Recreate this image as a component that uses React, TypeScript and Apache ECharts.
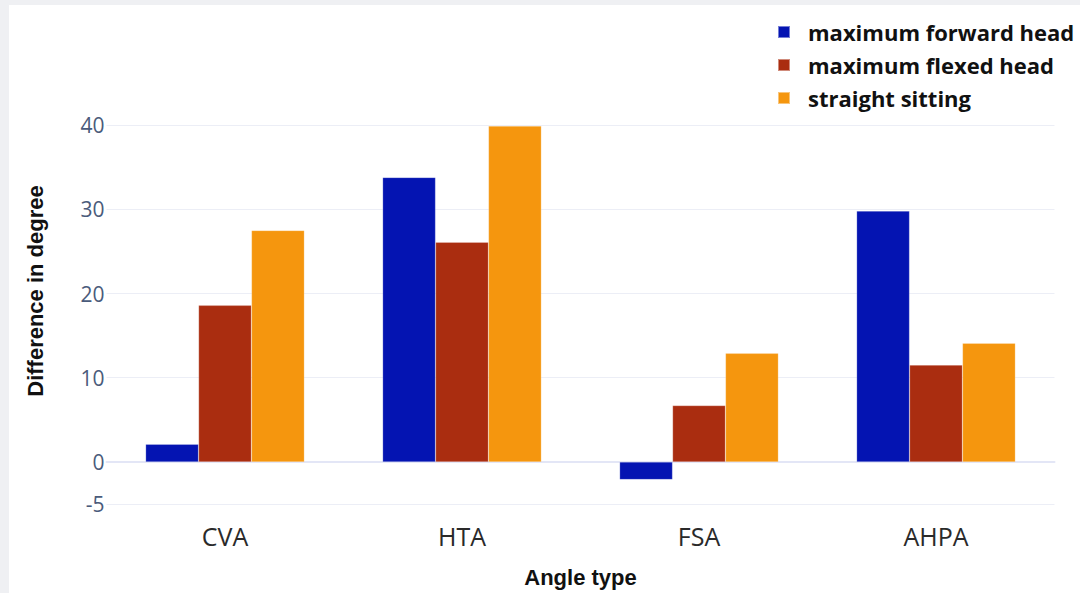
import React, { useEffect, useRef } from "react";
import * as echarts from "echarts";

const categories = ["CVA", "HTA", "FSA", "AHPA"];
const seriesNames = ["maximum forward head", "maximum flexed head", "straight sitting"];
const forwardHead = [2.1, 33.8, -2.1, 29.8];
const flexedHead = [18.6, 26.1, 6.7, 11.5];
const straightSitting = [27.5, 39.9, 12.9, 14.1];
const shownTicks = [-5, 0, 10, 20, 30, 40];
const yTitle = "Difference in degree";
const xTitle = "Angle type";

const colors = ["#0414b2", "#aa2d10", "#f5960e"];

export default function App() {
  const ref = useRef<HTMLDivElement>(null);
  useEffect(() => {
    if (!ref.current) return;
    const chart = echarts.init(ref.current, null, { renderer: "svg" });
    const grid = "#eceef6";
    const splitColors = [grid, "transparent", "transparent", grid, "transparent", grid, "transparent", grid, "transparent", grid, "transparent", "transparent"];
    const values = [forwardHead, flexedHead, straightSitting];
    chart.setOption({
      animation: false,
      backgroundColor: "#ffffff",
      grid: { left: 97.5, right: 25.5, top: 103.4, bottom: 89 },
      legend: {
        orient: "vertical",
        left: 763,
        top: 11,
        icon: "rect",
        itemWidth: 12,
        itemHeight: 12,
        itemGap: 11,
        data: seriesNames,
        textStyle: {
          fontFamily: "Open Sans",
          fontWeight: "bold",
          fontSize: 22,
          color: "#111111",
          padding: [0, 0, 0, 13],
        },
      },
      graphic: [
        {
          type: "text",
          x: 26,
          y: 286,
          rotation: Math.PI / 2,
          style: {
            text: yTitle,
            fontFamily: "Liberation Sans",
            fontWeight: "bold",
            fontSize: 22,
            fill: "#111111",
            align: "center",
            verticalAlign: "middle",
          },
        },
      ],
      xAxis: [
        {
          type: "category",
          data: categories,
          axisLine: { show: false, onZero: false },
          axisTick: { show: false },
          axisLabel: {
            fontFamily: "Open Sans",
            fontSize: 25,
            color: "#2a2a2a",
            margin: 19,
          },
          name: xTitle,
          nameLocation: "middle",
          nameGap: 62,
          nameTextStyle: {
            fontFamily: "Liberation Sans",
            fontWeight: "bold",
            fontSize: 22,
            color: "#111111",
          },
        },
        {
          type: "category",
          data: categories,
          position: "bottom",
          axisLine: { show: true, onZero: true, lineStyle: { color: "#e3e6f6", width: 2 } },
          axisTick: { show: false },
          axisLabel: { show: false },
          splitLine: { show: false },
        },
      ],
      yAxis: {
        type: "value",
        min: -5,
        max: 42,
        interval: 5,
        axisLine: { show: false },
        axisTick: { show: false },
        axisLabel: {
          fontFamily: "Open Sans",
          fontSize: 21,
          color: "#4a5b7b",
          margin: 2,
          formatter: (v: number) => (shownTicks.indexOf(v) >= 0 ? String(v) : ""),
        },
        splitLine: { show: true, lineStyle: { color: splitColors, width: 1 } },
      },
      series: seriesNames.map((name, i) => ({
        name,
        type: "bar",
        xAxisIndex: 0,
        data: values[i],
        barGap: "0%",
        barCategoryGap: "33%",
        itemStyle: { color: colors[i], borderColor: "rgba(255,255,255,0.45)", borderWidth: 0.5 },
      })),
    });
    return () => chart.dispose();
  }, []);
  return (
    <div style={{ position: "fixed", left: 0, top: 0, width: 1080, height: 593, background: "#eff0f3" }}>
      <div ref={ref} style={{ position: "absolute", left: 9, top: 5, width: 1071, height: 588 }} />
    </div>
  );
}
